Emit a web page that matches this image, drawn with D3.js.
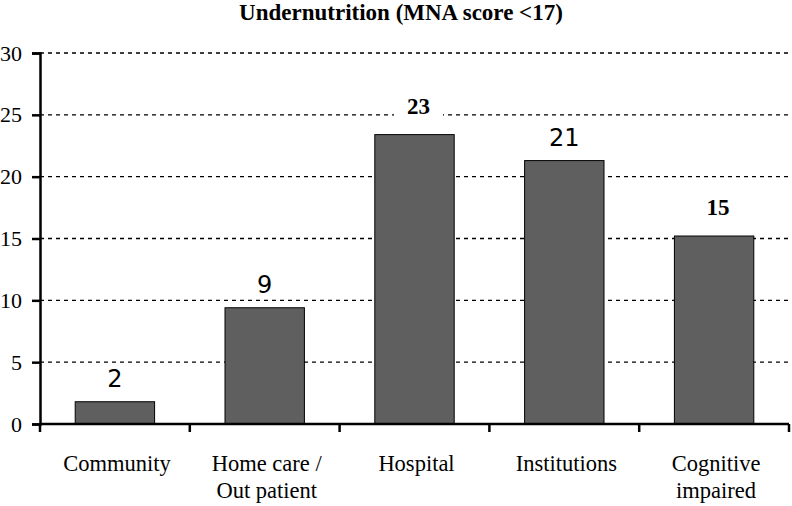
<!DOCTYPE html>
<html><head><meta charset="utf-8">
<script src="https://cdn.jsdelivr.net/npm/d3@7"></script>
<style>body{margin:0;background:#fff}svg{display:block}</style>
</head><body>
<svg id="c" width="792" height="506"></svg>
<script>
const categories = [["Community"], ["Home care /", "Out patient"], ["Hospital"], ["Institutions"], ["Cognitive", "impaired"]];
const values = [1.8, 9.4, 23.4, 21.3, 15.2];
const valueLabels = ["2", "9", "23", "21", "15"];
const labelBoldSerif = [false, false, true, false, true];
const yTicks = [0, 5, 10, 15, 20, 25, 30];
const title = "Undernutrition (MNA score <17)";

const svg = d3.select("#c");
const m = {l: 40, r: 3, t: 53, b: 82};
const W = 792, H = 506;
const x = d3.scaleBand().domain(d3.range(categories.length)).range([m.l, W - m.r]).paddingInner(0.47).paddingOuter(0.235);
const y = d3.scaleLinear().domain([0, 30]).range([H - m.b, m.t]);
const serif = "'Liberation Serif','Times New Roman',serif";
const sans = "'DejaVu Sans',Verdana,sans-serif";

// grid
svg.append("g").selectAll("line").data(yTicks.filter(d => d > 0)).join("line")
  .attr("x1", m.l).attr("x2", W - m.r)
  .attr("y1", d => y(d)).attr("y2", d => y(d))
  .attr("stroke", "#000").attr("stroke-width", 1.3).attr("stroke-dasharray", "4,4");

// bars
svg.append("g").selectAll("rect").data(values).join("rect")
  .attr("x", (d, i) => x(i)).attr("width", x.bandwidth())
  .attr("y", d => y(d)).attr("height", d => y(0) - y(d))
  .attr("fill", "#5f5f5f").attr("stroke", "#000").attr("stroke-width", 1);

// y axis
const ya = svg.append("g").attr("transform", `translate(${m.l},0)`)
  .call(d3.axisLeft(y).tickValues(yTicks).tickSize(8).tickPadding(10));
ya.select(".domain").attr("stroke-width", 2.5);
ya.selectAll(".tick line").attr("stroke-width", 2.5);
ya.selectAll("text").attr("font-family", serif).attr("font-size", 22).attr("fill", "#000");

// x axis
const xg = svg.append("g");
xg.append("line").attr("x1", m.l).attr("x2", W - m.r).attr("y1", y(0)).attr("y2", y(0)).attr("stroke", "#000").attr("stroke-width", 2.5);
const step = (W - m.r - m.l) / categories.length;
xg.selectAll("line.t").data(d3.range(categories.length + 1)).join("line").attr("class", "t")
  .attr("x1", i => m.l + i * step).attr("x2", i => m.l + i * step)
  .attr("y1", y(0)).attr("y2", y(0) + 8).attr("stroke", "#000").attr("stroke-width", 2.5);

// category labels
const cl = svg.append("g").selectAll("text").data(categories).join("text")
  .attr("text-anchor", "middle").attr("font-family", serif).attr("font-size", 22.5).attr("fill", "#000");
cl.each(function(lines, i) {
  d3.select(this).selectAll("tspan").data(lines).join("tspan")
    .attr("x", x(i) + x.bandwidth() / 2 + 2)
    .attr("y", (d, j) => y(0) + 47 + j * 27)
    .text(d => d);
});

// value labels with white background
const vl = svg.append("g").selectAll("g").data(values).join("g");
vl.append("rect").attr("fill", "#fff");
vl.append("text")
  .attr("x", (d, i) => x(i) + x.bandwidth() / 2 + (labelBoldSerif[i] ? 4 : 0))
  .attr("y", (d, i) => y(d) - (labelBoldSerif[i] ? 21 : 15))
  .attr("text-anchor", "middle")
  .attr("font-family", (d, i) => labelBoldSerif[i] ? serif : sans)
  .attr("font-weight", (d, i) => labelBoldSerif[i] ? "bold" : "normal")
  .attr("font-size", (d, i) => labelBoldSerif[i] ? 23 : 24)
  .attr("fill", "#000")
  .text((d, i) => valueLabels[i]);
vl.each(function() {
  const g = d3.select(this);
  const b = g.select("text").node().getBBox();
  g.select("rect").attr("x", b.x - 13).attr("width", b.width + 26)
    .attr("y", b.y + 4).attr("height", b.height - 6);
});

// title
svg.append("text").attr("x", 401).attr("y", 20).attr("text-anchor", "middle")
  .attr("font-family", serif).attr("font-weight", "bold").attr("font-size", 23).attr("fill", "#000")
  .text(title);
</script>
</body></html>
